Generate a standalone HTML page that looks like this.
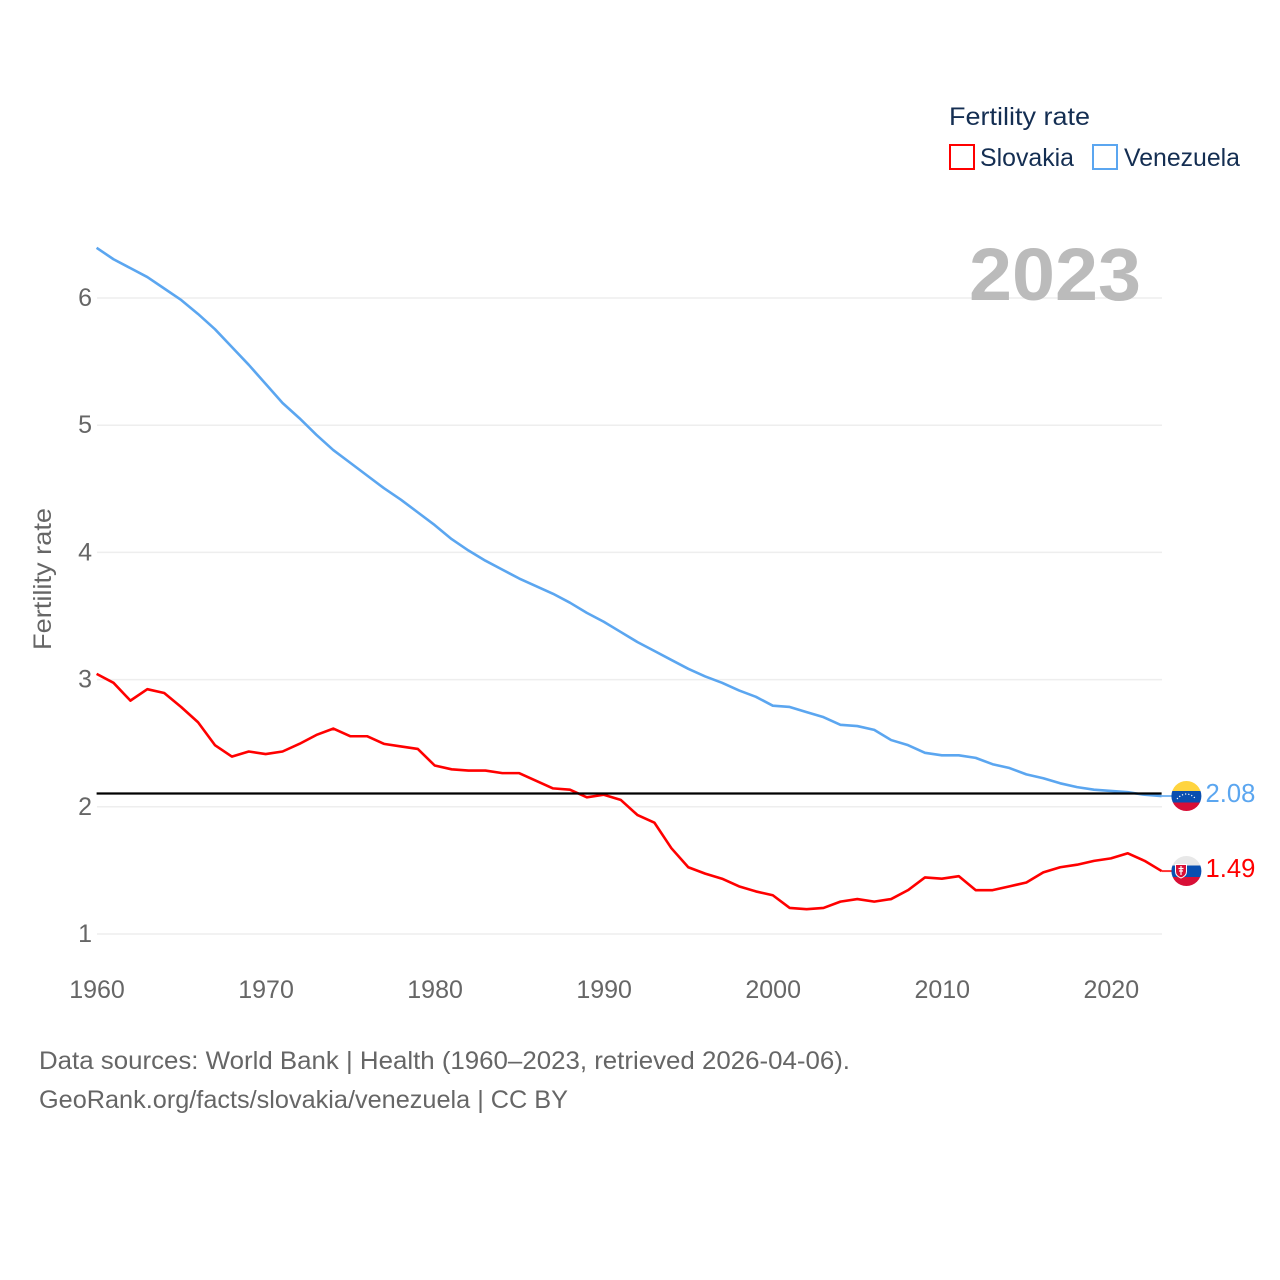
<!DOCTYPE html>
<html lang="en">
<head>
<meta charset="utf-8">
<title>Fertility rate: Slovakia vs Venezuela</title>
<style>
html,body{margin:0;padding:0;background:#fff;width:1280px;height:1280px;overflow:hidden}
svg{display:block}
text{font-family:"Liberation Sans",sans-serif}
.tick{font-size:25px;fill:#666}
.note{font-size:25px;fill:#666}
.legend{font-size:25px;fill:#142e52}
</style>
</head>
<body>
<svg id="chart" xmlns="http://www.w3.org/2000/svg" width="1280" height="1280" viewBox="0 0 1280 1280">
  <g id="grid"></g>
  <g id="yticks"></g>
  <g id="xticks"></g>
  <text class="tick" transform="translate(51,579) rotate(-90)" text-anchor="middle" textLength="142" lengthAdjust="spacingAndGlyphs">Fertility rate</text>
  <text x="969" y="300" font-size="74" font-weight="bold" fill="#bbbbbb" textLength="172" lengthAdjust="spacingAndGlyphs">2023</text>
  <g>
    <text class="legend" x="949" y="125" textLength="141" lengthAdjust="spacingAndGlyphs">Fertility rate</text>
    <rect x="950" y="145" width="24" height="24" fill="none" stroke="#ff0000" stroke-width="2"/>
    <text class="legend" x="980" y="166" textLength="94" lengthAdjust="spacingAndGlyphs">Slovakia</text>
    <rect x="1093" y="145" width="24" height="24" fill="none" stroke="#5ba6f0" stroke-width="2"/>
    <text class="legend" x="1124" y="166" textLength="116" lengthAdjust="spacingAndGlyphs">Venezuela</text>
  </g>
  <g id="series" transform="translate(-0.4,-0.6)"></g>
  <g id="flags">
    <defs>
      <clipPath id="clip-ve"><circle id="ve-clip-circle" cx="1186.400" cy="796" r="15"/></clipPath>
      <clipPath id="clip-sk"><circle id="sk-clip-circle" cx="1186.400" cy="871" r="15"/></clipPath>
    </defs>
    <g id="flag-ve" clip-path="url(#clip-ve)">
      <rect x="1171" y="781" width="31" height="10" fill="#ffd43f"/>
      <rect x="1171" y="791" width="31" height="11.500" fill="#0a4fb0"/>
      <rect x="1171" y="802.500" width="31" height="9.500" fill="#d80f36"/>
      <path d="M1177 799 Q1186 789 1196 799" fill="none" stroke="#ffffff" stroke-width="1.200" stroke-dasharray="1.200 2"/>
    </g>
    <g id="flag-sk" clip-path="url(#clip-sk)">
      <rect x="1171" y="856" width="31" height="9.500" fill="#e8e8e8"/>
      <rect x="1171" y="865.500" width="31" height="11.500" fill="#0a4fb0"/>
      <rect x="1171" y="877" width="31" height="10" fill="#d80f36"/>
      <path d="M1175.500 864.500h11v7q0 4.500-5.500 6.500q-5.500-2-5.500-6.500z" fill="#d80f36" stroke="#ffffff" stroke-width="1"/>
      <path d="M1181 866v9M1178.500 868.500h5M1179 871h4" stroke="#ffffff" stroke-width="1.200" fill="none"/>
    </g>
  </g>
  <g id="endlabels"></g>
  <g>
    <text class="note" x="39" y="1069" textLength="811" lengthAdjust="spacingAndGlyphs">Data sources: World Bank | Health (1960–2023, retrieved 2026-04-06).</text>
    <text class="note" x="39" y="1108" textLength="529" lengthAdjust="spacingAndGlyphs">GeoRank.org/facts/slovakia/venezuela | CC BY</text>
  </g>
</svg>
<script>
const startYear = 1960;
const xTickYears = [1960, 1970, 1980, 1990, 2000, 2010, 2020];
const yTickValues = [1, 2, 3, 4, 5, 6];
const replacementRate = [2.1];
const slovakiaValues = [3.04,2.97,2.83,2.92,2.89,2.78,2.66,2.48,2.39,2.43,
  2.41,2.43,2.49,2.56,2.61,2.55,2.55,2.49,2.47,2.45,
  2.32,2.29,2.28,2.28,2.26,2.26,2.20,2.14,2.13,2.07,
  2.09,2.05,1.93,1.87,1.67,1.52,1.47,1.43,1.37,1.33,
  1.30,1.20,1.19,1.20,1.25,1.27,1.25,1.27,1.34,1.44,
  1.43,1.45,1.34,1.34,1.37,1.40,1.48,1.52,1.54,1.57,
  1.59,1.63,1.57,1.49];
const venezuelaValues = [6.39,6.30,6.23,6.16,6.07,5.98,5.87,5.75,5.61,5.47,
  5.32,5.17,5.05,4.92,4.80,4.70,4.60,4.50,4.41,4.31,
  4.21,4.10,4.01,3.93,3.86,3.79,3.73,3.67,3.60,3.52,
  3.45,3.37,3.29,3.22,3.15,3.08,3.02,2.97,2.91,2.86,
  2.79,2.78,2.74,2.70,2.64,2.63,2.60,2.52,2.48,2.42,
  2.40,2.40,2.38,2.33,2.30,2.25,2.22,2.18,2.15,2.13,
  2.12,2.11,2.09,2.08];

const SVG_NS = 'http://www.w3.org/2000/svg';
const x = year => 97 + (year - 1960) * 16.905;
const y = value => 934 - (value - 1) * 127.2;
const plotLeft = x(1960);
const plotRight = x(2023);

function make(tag, attrs, parent) {
  const el = document.createElementNS(SVG_NS, tag);
  for (const key in attrs) el.setAttribute(key, attrs[key]);
  parent.appendChild(el);
  return el;
}

const grid = document.getElementById('grid');
const yticks = document.getElementById('yticks');
const xticks = document.getElementById('xticks');
const series = document.getElementById('series');
const endlabels = document.getElementById('endlabels');

yTickValues.forEach(v => {
  const line = make('line', {x1: plotLeft, x2: plotRight, y1: y(v), y2: y(v), stroke: '#eeeeee', 'stroke-width': 1.5}, grid);
  
  
  const label = make('text', {x: 92, y: y(v) + 8, 'text-anchor': 'end', class: 'tick'}, yticks);
  
  
  label.textContent = v;
});

xTickYears.forEach(yr => {
  const label = make('text', {x: x(yr), y: 998, 'text-anchor': 'middle', class: 'tick', 'font-size': 25.6}, xticks);
  
  
  label.textContent = yr;
});

function pathFor(values) {
  return values.map((v, i) => (i ? 'L' : 'M') + x(startYear + i).toFixed(2) + ' ' + y(v).toFixed(2)).join('');
}

function drawSeries(values, color, key) {
  const line = make('path', {d: pathFor(values), fill: 'none', stroke: color, 'stroke-width': 2.6, 'stroke-linejoin': 'round'}, series);
  
  
  const last = values[values.length - 1];
  const stub = make('line', {x1: plotRight, x2: 1172, y1: y(last), y2: y(last), stroke: color, 'stroke-width': 2, opacity: 0.8}, series);
  
  
}

drawSeries(slovakiaValues, '#ff0000', 'slovakia');
drawSeries(venezuelaValues, '#5ba6f0', 'venezuela');

const refLine = make('line', {x1: plotLeft, x2: plotRight, y1: y(replacementRate[0]), y2: y(replacementRate[0]), stroke: '#000000', 'stroke-width': 2.2}, series);



function endLabel(values, color, key) {
  const last = values[values.length - 1];
  const label = make('text', {x: 1205.500, y: y(last) + 5.500, 'font-size': 25.6, fill: color}, endlabels);
  
  
  label.textContent = last.toFixed(2);
}

endLabel(slovakiaValues, '#ff0000', 'slovakia');
endLabel(venezuelaValues, '#5ba6f0', 'venezuela');
</script>
</body>
</html>
